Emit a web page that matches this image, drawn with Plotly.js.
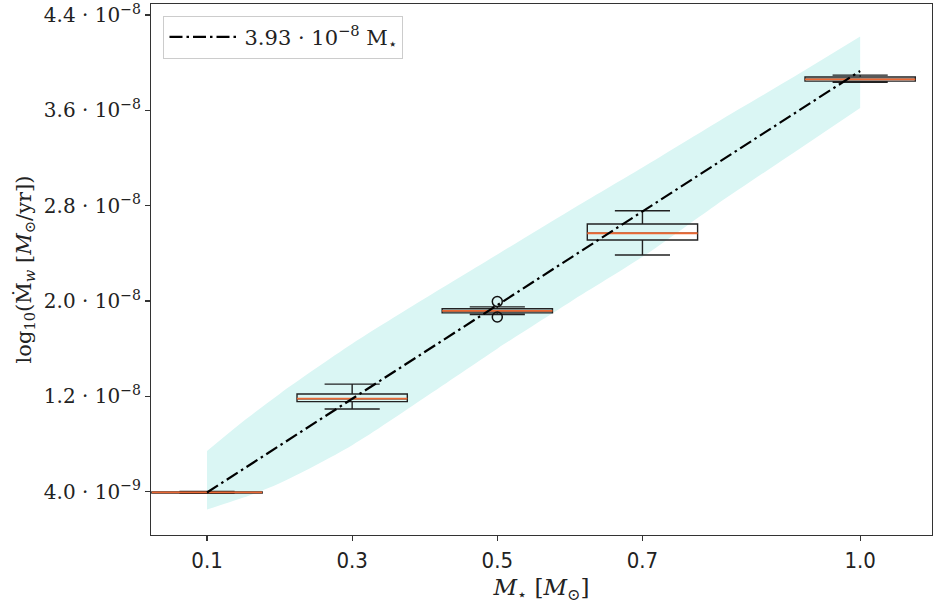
<!DOCTYPE html>
<html>
<head>
<meta charset="utf-8">
<script src="https://cdn.plot.ly/plotly-3.0.1.min.js"></script>
<style>html,body{margin:0;padding:0;background:#fff;} #chart{width:936px;height:604px;}</style>
</head>
<body>
<div id="chart"></div>
<script>
// ---- data ----
const masses = [0.1, 0.3, 0.5, 0.7, 1.0];
const tickLabelsX = ["0.1", "0.3", "0.5", "0.7", "1.0"];
const q1 = [3.88e-9, 1.155e-8, 1.900e-8, 2.512e-8, 3.845e-8];
const medians = [3.93e-9, 1.180e-8, 1.916e-8, 2.568e-8, 3.860e-8];
const q3 = [3.98e-9, 1.219e-8, 1.935e-8, 2.646e-8, 3.880e-8];
const lowerWhisker = [3.85e-9, 1.093e-8, 1.886e-8, 2.386e-8, 3.835e-8];
const upperWhisker = [4.02e-9, 1.302e-8, 1.950e-8, 2.757e-8, 3.895e-8];
const outlierX = [0.5, 0.5];
const outlierY = [1.995e-8, 1.865e-8];
const bandX = [0.1, 0.15, 0.2, 0.3, 0.4, 0.5, 0.6, 0.7, 0.8, 0.9, 1.0];
const bandUpper = [7.4e-9, 9.9e-9, 12.2e-9, 16.4e-9, 20.2e-9, 23.9e-9, 27.6e-9, 31.2e-9, 34.9e-9, 38.5e-9, 42.2e-9];
const bandLower = [2.5e-9, 3.5e-9, 4.7e-9, 7.9e-9, 11.9e-9, 16.0e-9, 19.9e-9, 23.7e-9, 28.0e-9, 32.1e-9, 36.2e-9];
const fitX = [0.1, 1.0];
const fitY = [3.93e-9, 3.93e-8];
const dotSep = " · ";
const yTickVals = [4.0e-9, 1.2e-8, 2.0e-8, 2.8e-8, 3.6e-8, 4.4e-8];
const yTickText = ["4.0" + dotSep + "10<sup>−9</sup>", "1.2" + dotSep + "10<sup>−8</sup>", "2.0" + dotSep + "10<sup>−8</sup>",
                   "2.8" + dotSep + "10<sup>−8</sup>", "3.6" + dotSep + "10<sup>−8</sup>", "4.4" + dotSep + "10<sup>−8</sup>"];
const fitLabel = "3.93" + dotSep + "10<sup>−8</sup> M<sub>⋆</sub>";

// ---- traces ----
const serif = "DejaVu Serif, Liberation Serif, serif";
const xr = [0.0228, 1.099];
const yr = [3.6e-10, 4.492e-8];
const boxW = 0.152;
const medianColor = "#ea6834";

const traces = [
  { type: "scatter", x: bandX, y: bandLower, mode: "lines", line: {width: 0, shape: "spline", smoothing: 0.8},
    showlegend: false, hoverinfo: "skip", xaxis: "x", yaxis: "y" },
  { type: "scatter", x: bandX, y: bandUpper, mode: "lines", line: {width: 0, shape: "spline", smoothing: 0.8},
    fill: "tonexty", fillcolor: "#daf6f4", showlegend: false, hoverinfo: "skip", xaxis: "x", yaxis: "y" },
  { type: "box", x: masses, q1: q1, median: medians, q3: q3, lowerfence: lowerWhisker,
    upperfence: upperWhisker, width: boxW, whiskerwidth: 0.5, boxpoints: false,
    fillcolor: "rgba(0,0,0,0)", line: {color: "#222", width: 1.4}, showlegend: false,
    xaxis: "x2", yaxis: "y2" },
  { type: "box", x: masses, q1: medians, median: medians, q3: medians, lowerfence: medians,
    upperfence: medians, width: boxW, whiskerwidth: 0, boxpoints: false,
    fillcolor: "rgba(0,0,0,0)", line: {color: medianColor, width: 1.8}, showlegend: false,
    xaxis: "x2", yaxis: "y2" },
  { type: "scatter", x: outlierX, y: outlierY, mode: "markers",
    marker: {symbol: "circle-open", size: 10, color: "#111", line: {width: 1.5, color: "#111"}},
    showlegend: false, xaxis: "x2", yaxis: "y2" },
  { type: "scatter", x: fitX, y: fitY, mode: "lines", name: fitLabel,
    line: {color: "#000", width: 2.2, dash: "13px,4px,2.5px,4px"}, xaxis: "x2", yaxis: "y2" }
];

const axisCommon = {
  showline: true, mirror: true, linecolor: "#333", linewidth: 1.2,
  ticks: "outside", ticklen: 5, tickwidth: 1.2, tickcolor: "#333",
  showgrid: false, zeroline: false
};

const layout = {
  width: 936, height: 604,
  margin: {l: 151, r: 4, t: 4, b: 69},
  paper_bgcolor: "#fff", plot_bgcolor: "#fff",
  boxmode: "overlay",
  xaxis: Object.assign({}, axisCommon, {
    range: xr, tickmode: "array", tickvals: masses, ticktext: tickLabelsX,
    tickfont: {family: "Liberation Sans Narrow, DejaVu Sans Condensed, Roboto, sans-serif", size: 22, color: "#222"},
    title: {text: "<i>M</i><sub>⋆</sub> [<i>M</i><sub>⊙</sub>]", font: {family: serif, size: 23, color: "#222"}, standoff: 8}
  }),
  yaxis: Object.assign({}, axisCommon, {
    range: yr, tickmode: "array", tickvals: yTickVals, ticktext: yTickText,
    tickfont: {family: serif, size: 20, color: "#222"},
    title: {text: "log<sub>10</sub>(Ṁ<sub><i>w</i></sub> [<i>M</i><sub>⊙</sub>/yr])", font: {family: serif, size: 21, color: "#222"}, standoff: 6}
  }),
  xaxis2: {overlaying: "x", range: xr, visible: false, showgrid: false, zeroline: false},
  yaxis2: {overlaying: "y", range: yr, visible: false, showgrid: false, zeroline: false},
  legend: {
    x: 0.016, y: 0.978, xanchor: "left", yanchor: "top",
    bgcolor: "rgba(255,255,255,0.9)", bordercolor: "#ccc", borderwidth: 1,
    font: {family: serif, size: 21, color: "#222"}, itemwidth: 70
  },
  showlegend: true
};

Plotly.newPlot("chart", traces, layout, {staticPlot: true});
</script>
</body>
</html>
